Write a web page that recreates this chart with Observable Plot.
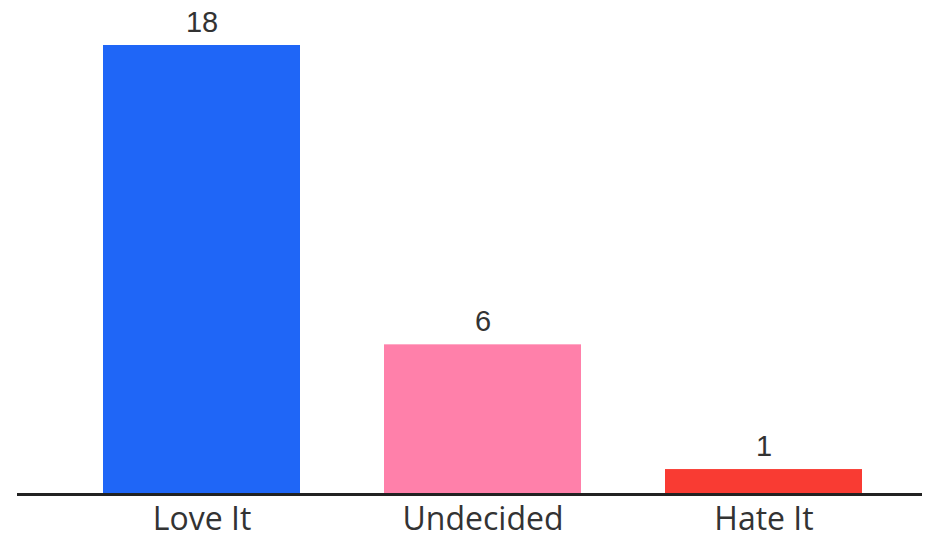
<!DOCTYPE html>
<html><head><meta charset="utf-8">
<script src="https://cdn.jsdelivr.net/npm/d3@7"></script>
<script src="https://cdn.jsdelivr.net/npm/@observablehq/plot@0.6"></script>
<style>body{margin:0;background:#fff}</style>
</head><body><div id="chart"></div>
<script>
const categories = ["Love It", "Undecided", "Hate It"];
const counts = [18, 6, 1];
const colors = ["#1F66F7", "#FF80AA", "#F93B33"];
const data = categories.map((c, i) => ({category: c, count: counts[i], color: colors[i]}));

const chart = Plot.plot({
  width: 936, height: 539,
  marginTop: 45, marginBottom: 45, marginLeft: 75, marginRight: 46,
  x: {domain: categories, paddingInner: 0.3, paddingOuter: 0.1, axis: null},
  y: {domain: [0, 18], axis: null},
  marks: [
    Plot.barY(data, {x: "category", y: "count", fill: "color"}),
    Plot.ruleY([0], {stroke: "#222", strokeWidth: 3, insetLeft: -58, insetRight: -32}),
    Plot.text(data, {x: "category", y: "count", text: d => String(d.count), dy: -23,
      fontSize: 29, fill: "#333", fontFamily: "Liberation Sans, Arial, sans-serif"}),
    Plot.text(data, {x: "category", y: 0, text: "category", dy: 25,
      fontSize: 32, fill: "#333", fontFamily: "Open Sans, sans-serif"})
  ]
});
document.getElementById("chart").append(chart);
</script></body></html>
